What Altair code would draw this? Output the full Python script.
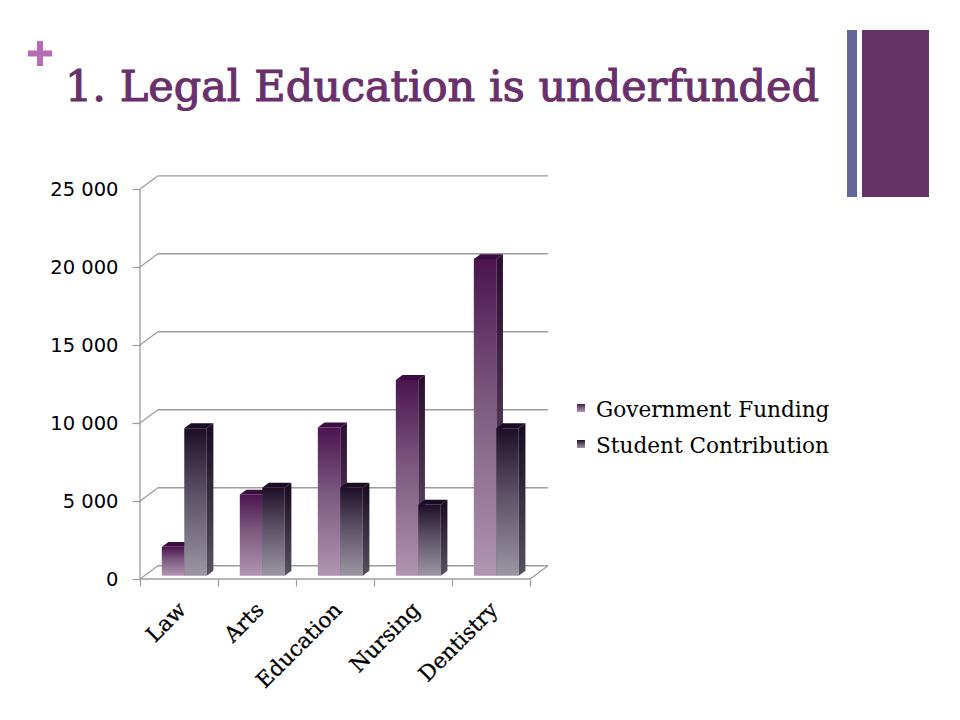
import altair as alt
import pandas as pd

# ---------------- data ----------------
CATEGORIES = ["Law", "Arts", "Education", "Nursing", "Dentistry"]
SERIES = ["Government Funding", "Student Contribution"]
GOV = [1850, 5200, 9500, 12550, 20300]
STUDENT = [9450, 5650, 5650, 4550, 9450]
Y_TICKS = [0, 5000, 10000, 15000, 20000, 25000]
TITLE = "1. Legal Education is underfunded"

# ---------------- 3D geometry (style constants) ----------------
DX = 0.23      # depth shift in x (category units)
DY = 850       # depth shift in y (value units)
Z0, Z1 = 0.25, 0.62   # bar front / back depth
A, W = 0.222, 0.288   # bar start offset and width inside a category
N = len(CATEGORIES)
YMAX = 25900

def faces(values, s):
    front, side, top = [], [], []
    for i, (c, v) in enumerate(zip(CATEGORIES, values)):
        xl = i + A + s * W + Z0 * DX
        xr = xl + W
        ddx = (Z1 - Z0) * DX
        ddy = (Z1 - Z0) * DY
        b = Z0 * DY
        front.append(dict(cat=c, x=xl, x2=xr, y=b, y2=v + b))
        side += [dict(cat=c, x=xr, lo=b, hi=v + b),
                 dict(cat=c, x=xr + ddx, lo=b + ddy, hi=v + b + ddy)]
        top += [dict(cat=c, x=xl, lo=v + b, hi=v + b),
                dict(cat=c, x=xl + ddx, lo=v + b, hi=v + b + ddy),
                dict(cat=c, x=xr, lo=v + b, hi=v + b + ddy),
                dict(cat=c, x=xr + ddx, lo=v + b + ddy, hi=v + b + ddy)]
    return pd.DataFrame(front), pd.DataFrame(side), pd.DataFrame(top)

def grad(stops):
    return alt.Gradient(gradient="linear", x1=0, y1=0, x2=0, y2=1,
                        stops=[alt.GradientStop(offset=o, color=c) for o, c in stops])

GOV_FRONT = grad([(0, "#4b144f"), (0.45, "#7d5a80"), (1, "#b294b3")])
GOV_SIDE = grad([(0, "#2c0c31"), (1, "#6a5470")])
GOV_TOP = "#3a0d40"
STU_FRONT = grad([(0, "#1d0e28"), (0.45, "#5c5166"), (1, "#9c96a3")])
STU_SIDE = grad([(0, "#170b1f"), (1, "#57515f")])
STU_TOP = "#1b0a26"

xs = alt.Scale(domain=[0, N + DX], nice=False, zero=False)
ys = alt.Scale(domain=[0, YMAX], nice=False, zero=True)
GRID = "#9c9c9c"

ticks_df = pd.DataFrame({"v": Y_TICKS})

# y axis (front) with ticks and labels
yaxis = alt.Chart(ticks_df).mark_rule(opacity=0).encode(
    y=alt.Y("v:Q", scale=ys, axis=alt.Axis(
        values=Y_TICKS, domain=False, grid=False, title=None,
        tickSize=8, tickColor=GRID, tickWidth=1.2, labelPadding=14,
        labelFont="DejaVu Sans", labelFontSize=19.5, labelColor="#000000",
        labelExpr="replace(format(datum.value, ','), ',', ' ')")),
    x=alt.value(0), x2=alt.value(0),
)

# x axis ticks (labels drawn separately)
xaxis = alt.Chart(pd.DataFrame({"i": list(range(N + 1))})).mark_rule(opacity=0).encode(
    x=alt.X("i:Q", scale=xs, axis=alt.Axis(
        values=list(range(N + 1)), domain=False, grid=False, labels=False,
        title=None, tickSize=7, tickColor=GRID, tickWidth=1.2)),
    y=alt.value(404), y2=alt.value(404),
)

# back wall gridlines
back = alt.Chart(ticks_df.assign(x0=DX, x1=N + DX, yy=ticks_df.v + DY)).mark_rule(
    color=GRID, strokeWidth=1.3).encode(
    x=alt.X("x0:Q", scale=xs), x2="x1:Q", y=alt.Y("yy:Q", scale=ys))

# left wall diagonals
diag = alt.Chart(ticks_df.assign(x0=0.0, x1=DX, yy=ticks_df.v + DY)).mark_rule(
    color=GRID, strokeWidth=1.3).encode(
    x=alt.X("x0:Q", scale=xs), x2="x1:Q", y=alt.Y("v:Q", scale=ys), y2="yy:Q")

# front axis line, floor front edge, floor right edge
edges_df = pd.DataFrame([
    dict(x0=0.0, x1=0.0, y0=0, y1=Y_TICKS[-1]),
    dict(x0=0.0, x1=float(N), y0=0, y1=0),
    dict(x0=float(N), x1=N + DX, y0=0, y1=DY),
])
edges = alt.Chart(edges_df).mark_rule(color=GRID, strokeWidth=1.3).encode(
    x=alt.X("x0:Q", scale=xs), x2="x1:Q", y=alt.Y("y0:Q", scale=ys), y2="y1:Q")

layers = [back, diag, edges, yaxis, xaxis]
for s, (vals, fc, sc, tc) in enumerate([(GOV, GOV_FRONT, GOV_SIDE, GOV_TOP),
                                          (STUDENT, STU_FRONT, STU_SIDE, STU_TOP)]):
    f, sd, tp = faces(vals, s)
    layers.append(alt.Chart(f).mark_rect(fill=fc, stroke=None).encode(
        x=alt.X("x:Q", scale=xs), x2="x2:Q", y=alt.Y("y:Q", scale=ys), y2="y2:Q"))
    layers.append(alt.Chart(sd).mark_area(fill=sc, stroke=None).encode(
        x=alt.X("x:Q", scale=xs), y=alt.Y("lo:Q", scale=ys), y2="hi:Q",
        detail="cat:N"))
    layers.append(alt.Chart(tp).mark_area(fill=tc, stroke=None).encode(
        x=alt.X("x:Q", scale=xs), y=alt.Y("lo:Q", scale=ys), y2="hi:Q",
        detail="cat:N"))

# category labels
lab_df = pd.DataFrame({"cat": CATEGORIES, "xc": [i + 0.55 for i in range(N)]})
labels = alt.Chart(lab_df).mark_text(
    angle=315, align="right", baseline="middle", font="DejaVu Serif",
    fontSize=21.5, color="#000000", stroke="#000000", strokeWidth=0.3).encode(
    x=alt.X("xc:Q", scale=xs), y=alt.value(432), text="cat:N")
layers.append(labels)

one = alt.Data(values=[{}])

# legend
LEG = [(SERIES[0], GOV_FRONT, 229), (SERIES[1], STU_FRONT, 265)]
for name, g, yt in LEG:
    layers.append(alt.Chart(one).mark_rect(fill=g).encode(
        x=alt.value(437), x2=alt.value(445), y=alt.value(yt), y2=alt.value(yt + 8)))
    layers.append(alt.Chart(one).mark_text(
        align="left", baseline="alphabetic", font="DejaVu Serif", fontSize=21.6,
        color="#000000").encode(
        x=alt.value(456), y=alt.value(yt + 13), text=alt.value(name)))

# title
layers.append(alt.Chart(one).mark_text(
    align="left", baseline="alphabetic", font="DejaVu Serif", fontSize=43,
    color="#69306b", stroke="#69306b", strokeWidth=1.1).encode(
    x=alt.value(-75), y=alt.value(-74), text=alt.value(TITLE)))

# plus sign
PLUS = "#b66bb9"
layers.append(alt.Chart(one).mark_rule(color=PLUS, strokeWidth=6).encode(
    x=alt.value(-112), x2=alt.value(-88), y=alt.value(-121.5)))
layers.append(alt.Chart(one).mark_rule(color=PLUS, strokeWidth=6).encode(
    x=alt.value(-100), y=alt.value(-134), y2=alt.value(-109)))

# right decorative bars
layers.append(alt.Chart(one).mark_rect(color="#64669a").encode(
    x=alt.value(707), x2=alt.value(717), y=alt.value(-145), y2=alt.value(22)))
layers.append(alt.Chart(one).mark_rect(color="#663366").encode(
    x=alt.value(722), x2=alt.value(789), y=alt.value(-145), y2=alt.value(22)))

chart = alt.layer(*layers).properties(
    width=408, height=404,
    background="#ffffff",
    autosize=alt.AutoSizeParams(type="none"),
    padding={"left": 132, "top": 167, "right": 404, "bottom": 133},
).configure_view(stroke=None, strokeWidth=0)

chart.save("out.html", embed_options={"renderer": "svg", "actions": False})
